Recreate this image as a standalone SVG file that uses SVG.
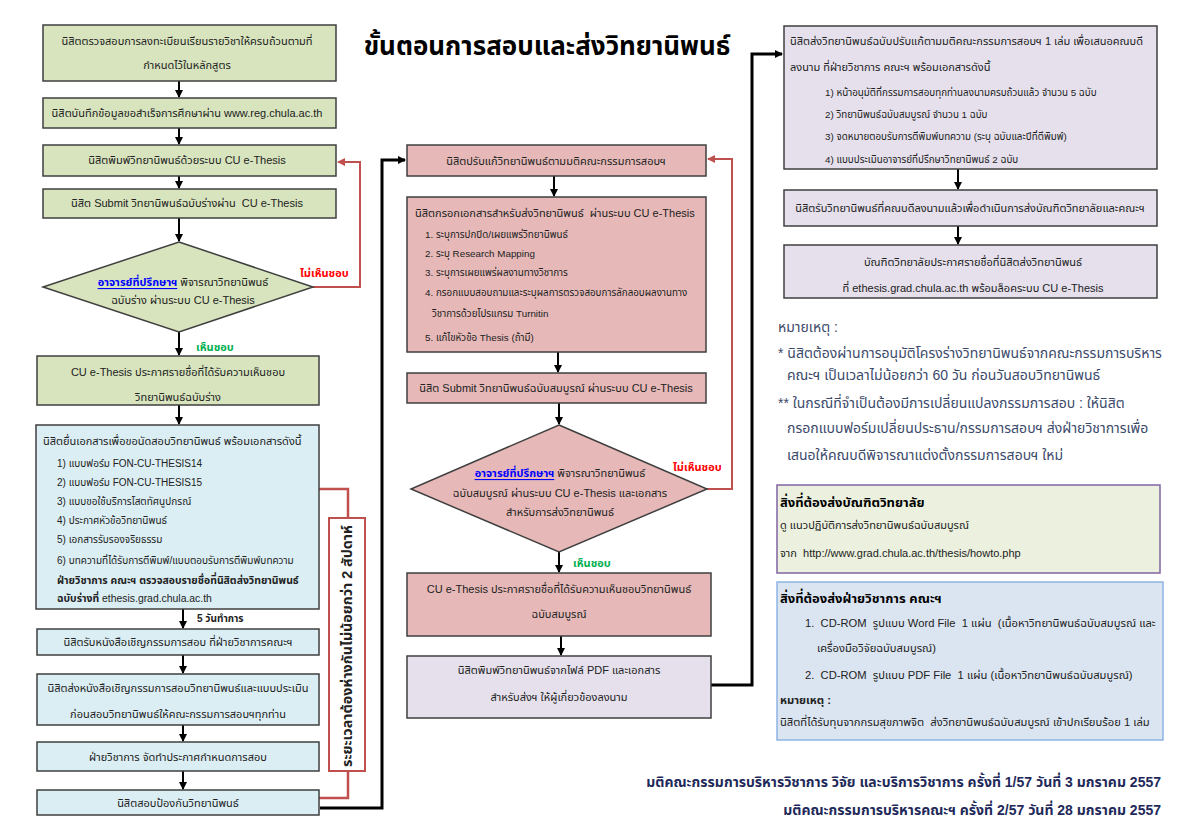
<svg xmlns="http://www.w3.org/2000/svg" width="1183" height="839" viewBox="0 0 1183 839">
<defs>
<marker id="ah" markerWidth="8" markerHeight="8" refX="7" refY="4" orient="auto" markerUnits="userSpaceOnUse"><path d="M0,0 L8,4 L0,8 z" fill="#000"/></marker>
<marker id="ahr" markerWidth="8" markerHeight="8" refX="7" refY="4" orient="auto" markerUnits="userSpaceOnUse"><path d="M0,0 L8,4 L0,8 z" fill="#c0504d"/></marker>
<style>
text{font-family:"Liberation Sans","Noto Sans Thai","Tahoma",sans-serif;fill:#222;font-size:11px;dominant-baseline:central}
.c{text-anchor:middle}
.s{font-size:9.8px}
.s10{font-size:10px}
.f{font-size:11.2px}
.b{font-weight:bold}
.box{stroke:#3f3f3f;stroke-width:1.5}
.g{fill:#d7e4bd}
.bl{fill:#dbeef4}
.pk{fill:#e6b9b8}
.lv{fill:#e5e0ec}
.ln{stroke:#000;stroke-width:2;fill:none}
.thick{stroke:#000;stroke-width:3;fill:none}
.red{stroke:#c0504d;stroke-width:2;fill:none}
.rl{fill:#ff0000;font-weight:bold}
.gl{fill:#00b050;font-weight:bold}
.lk{fill:#0000ff;font-weight:bold;text-decoration:underline}
.note{fill:#3b4a6b;font-size:14px}
.foot{fill:#1f2a5a;font-size:14px;font-weight:bold;text-anchor:end}
</style>
</defs>
<rect width="1183" height="839" fill="#fff"/>
<text x="547" y="46" class="c b" style="font-size:26px;fill:#000">ขั้นตอนการสอบและส่งวิทยานิพนธ์</text>

<g id="connectors">
<line x1="179" y1="81" x2="179" y2="97" class="ln" marker-end="url(#ah)"/>
<line x1="179" y1="128" x2="179" y2="144" class="ln" marker-end="url(#ah)"/>
<line x1="179" y1="176" x2="179" y2="188" class="ln" marker-end="url(#ah)"/>
<line x1="179" y1="218" x2="179" y2="241" class="ln" marker-end="url(#ah)"/>
<polyline points="313,287 360,287 360,162 338,162" class="red" marker-end="url(#ahr)"/>
<line x1="179" y1="332" x2="179" y2="355" class="ln" marker-end="url(#ah)"/>
<line x1="179" y1="405" x2="179" y2="424" class="ln" marker-end="url(#ah)"/>
<line x1="183" y1="609" x2="183" y2="628" class="ln" marker-end="url(#ah)"/>
<line x1="183" y1="655" x2="183" y2="673" class="ln" marker-end="url(#ah)"/>
<line x1="183" y1="725" x2="183" y2="741" class="ln" marker-end="url(#ah)"/>
<line x1="183" y1="771" x2="183" y2="789" class="ln" marker-end="url(#ah)"/>
<polyline points="319,489 348,489 348,518" class="red" style="stroke-width:2.5"/>
<polyline points="348,771 348,798 319,798" class="red" style="stroke-width:2.5"/>
<polyline points="320,808 382,808 382,160 405,160" class="thick" marker-end="url(#ah)"/>
<line x1="554" y1="176" x2="554" y2="196" class="ln" marker-end="url(#ah)"/>
<line x1="558" y1="352" x2="558" y2="372" class="ln" marker-end="url(#ah)"/>
<line x1="559" y1="403" x2="559" y2="424" class="ln" marker-end="url(#ah)"/>
<polyline points="707,489 732,489 732,159 708,159" class="red" marker-end="url(#ahr)"/>
<line x1="559" y1="552" x2="559" y2="572" class="ln" marker-end="url(#ah)"/>
<line x1="561" y1="636" x2="561" y2="655" class="ln" marker-end="url(#ah)"/>
<polyline points="711,685 752,685 752,54 782,54" class="thick" marker-end="url(#ah)"/>
<line x1="958" y1="169" x2="958" y2="189" class="ln" marker-end="url(#ah)"/>
<line x1="958" y1="226" x2="958" y2="244" class="ln" marker-end="url(#ah)"/>
<text x="300" y="273" class="rl">ไม่เห็นชอบ</text>
<text x="196" y="347" class="gl">เห็นชอบ</text>
<text x="197" y="618" class="b" style="font-size:10px">5 วันทำการ</text>
<text x="673" y="467" class="rl">ไม่เห็นชอบ</text>
<text x="573" y="563" class="gl">เห็นชอบ</text>
</g>

<g id="n1"><rect x="43" y="25" width="293" height="56" class="box g"/>
<text x="187" y="41" class="c">นิสิตตรวจสอบการลงทะเบียนเรียนรายวิชาให้ครบถ้วนตามที่</text>
<text x="187" y="65" class="c">กำหนดไว้ในหลักสูตร</text></g>
<g id="n2"><rect x="43" y="98" width="293" height="30" class="box g"/>
<text x="187" y="113" class="c">นิสิตบันทึกข้อมูลขอสำเร็จการศึกษาผ่าน www.reg.chula.ac.th</text></g>
<g id="n3"><rect x="43" y="145" width="293" height="31" class="box g"/>
<text x="187" y="160" class="c">นิสิตพิมพ์วิทยานิพนธ์ด้วยระบบ CU e-Thesis</text></g>
<g id="n4"><rect x="43" y="189" width="293" height="29" class="box g"/>
<text x="187" y="203" class="c">นิสิต Submit วิทยานิพนธ์ฉบับร่างผ่าน&#160; CU e-Thesis</text></g>
<g id="d1"><polygon points="179,242 313,287 179,332 43,287" class="box g"/>
<text x="183" y="282" class="c"><tspan class="lk">อาจารย์ที่ปรึกษาฯ</tspan> พิจารณาวิทยานิพนธ์</text>
<text x="183" y="300" class="c">ฉบับร่าง ผ่านระบบ CU e-Thesis</text></g>
<g id="n5"><rect x="37" y="356" width="282" height="49" class="box g"/>
<text x="178" y="372" class="c">CU e-Thesis ประกาศรายชื่อที่ได้รับความเห็นชอบ</text>
<text x="178" y="397" class="c">วิทยานิพนธ์ฉบับร่าง</text></g>
<g id="n6"><rect x="36" y="425" width="283" height="184" class="box bl"/>
<text x="43" y="441">นิสิตยื่นเอกสารเพื่อขอนัดสอบวิทยานิพนธ์ พร้อมเอกสารดังนี้</text>
<text x="57" y="463" class="s10">1) แบบฟอร์ม FON-CU-THESIS14</text>
<text x="57" y="482" class="s10">2) แบบฟอร์ม FON-CU-THESIS15</text>
<text x="57" y="501" class="s10">3) แบบขอใช้บริการโสตทัศนูปกรณ์</text>
<text x="57" y="520" class="s10">4) ประกาศหัวข้อวิทยานิพนธ์</text>
<text x="57" y="539" class="s10">5) เอกสารรับรองจริยธรรม</text>
<text x="57" y="560" class="s10">6) บทความที่ได้รับการตีพิมพ์/แบบตอบรับการตีพิมพ์บทความ</text>
<text x="57" y="580" class="b" style="font-size:10.4px">ฝ่ายวิชาการ คณะฯ ตรวจสอบรายชื่อที่นิสิตส่งวิทยานิพนธ์</text>
<text x="57" y="598" style="font-size:10.4px"><tspan class="b">ฉบับร่างที่</tspan> ethesis.grad.chula.ac.th</text></g>
<g id="n7"><rect x="37" y="629" width="282" height="26" class="box bl"/>
<text x="178" y="642" class="c">นิสิตรับหนังสือเชิญกรรมการสอบ ที่ฝ่ายวิชาการคณะฯ</text></g>
<g id="n8"><rect x="37" y="674" width="282" height="51" class="box bl"/>
<text x="178" y="688" class="c">นิสิตส่งหนังสือเชิญกรรมการสอบวิทยานิพนธ์และแบบประเมิน</text>
<text x="178" y="714" class="c">ก่อนสอบวิทยานิพนธ์ให้คณะกรรมการสอบฯทุกท่าน</text></g>
<g id="n9"><rect x="37" y="742" width="282" height="29" class="box bl"/>
<text x="178" y="757" class="c">ฝ่ายวิชาการ จัดทำประกาศกำหนดการสอบ</text></g>
<g id="n10"><rect x="37" y="790" width="282" height="25" class="box bl"/>
<text x="178" y="803" class="c">นิสิตสอบป้องกันวิทยานิพนธ์</text></g>
<g id="n11"><rect x="329" y="518" width="36" height="253" fill="#fff" stroke="#c0504d" stroke-width="2"/>
<text transform="translate(347,646) rotate(-90)" class="c b" style="font-size:14.3px">ระยะเวลาต้องห่างกันไม่น้อยกว่า 2 สัปดาห์</text></g>

<g id="m1"><rect x="407" y="145" width="299" height="31" class="box pk"/>
<text x="556" y="161" class="c">นิสิตปรับแก้วิทยานิพนธ์ตามมติคณะกรรมการสอบฯ</text></g>
<g id="m2"><rect x="407" y="197" width="299" height="155" class="box pk"/>
<text x="415" y="213">นิสิตกรอกเอกสารสำหรับส่งวิทยานิพนธ์&#160; ผ่านระบบ CU e-Thesis</text>
<text x="425" y="234" class="s">1. ระบุการปกปิด/เผยแพร่วิทยานิพนธ์</text>
<text x="425" y="253" class="s">2. ระบุ Research Mapping</text>
<text x="425" y="272" class="s">3. ระบุการเผยแพร่ผลงานทางวิชาการ</text>
<text x="425" y="292" class="s">4. กรอกแบบสอบถามและระบุผลการตรวจสอบการลักลอบผลงานทาง</text>
<text x="432" y="313" class="s">วิชาการด้วยโปรแกรม Turnitin</text>
<text x="425" y="337" class="s">5. แก้ไขหัวข้อ Thesis (ถ้ามี)</text></g>
<g id="m3"><rect x="407" y="373" width="299" height="30" class="box pk"/>
<text x="556" y="388" class="c">นิสิต Submit วิทยานิพนธ์ฉบับสมบูรณ์ ผ่านระบบ CU e-Thesis</text></g>
<g id="d2"><polygon points="559,425 707,489 559,552 411,489" class="box pk"/>
<text x="560" y="473" class="c"><tspan class="lk">อาจารย์ที่ปรึกษาฯ</tspan> พิจารณาวิทยานิพนธ์</text>
<text x="560" y="493" class="c">ฉบับสมบูรณ์ ผ่านระบบ CU e-Thesis และเอกสาร</text>
<text x="560" y="512" class="c">สำหรับการส่งวิทยานิพนธ์</text></g>
<g id="m4"><rect x="407" y="573" width="304" height="63" class="box pk"/>
<text x="559" y="589" class="c">CU e-Thesis ประกาศรายชื่อที่ได้รับความเห็นชอบวิทยานิพนธ์</text>
<text x="559" y="614" class="c">ฉบับสมบูรณ์</text></g>
<g id="m5"><rect x="407" y="656" width="304" height="62" class="box lv"/>
<text x="559" y="670" class="c">นิสิตพิมพ์วิทยานิพนธ์จากไฟล์ PDF และเอกสาร</text>
<text x="559" y="697" class="c">สำหรับส่งฯ ให้ผู้เกี่ยวข้องลงนาม</text></g>

<g id="r1"><rect x="784" y="26" width="373" height="143" class="box lv"/>
<text x="790" y="41">นิสิตส่งวิทยานิพนธ์ฉบับปรับแก้ตามมติคณะกรรมการสอบฯ 1 เล่ม เพื่อเสนอคณบดี</text>
<text x="790" y="67">ลงนาม ที่ฝ่ายวิชาการ คณะฯ พร้อมเอกสารดังนี้</text>
<text x="825" y="92" class="s">1) หน้าอนุมัติที่กรรมการสอบทุกท่านลงนามครบถ้วนแล้ว จำนวน 5 ฉบับ</text>
<text x="825" y="114" class="s">2) วิทยานิพนธ์ฉบับสมบูรณ์ จำนวน 1 ฉบับ</text>
<text x="825" y="136" class="s">3) จดหมายตอบรับการตีพิมพ์บทความ (ระบุ ฉบับและปีที่ตีพิมพ์)</text>
<text x="825" y="159" class="s">4) แบบประเมินอาจารย์ที่ปรึกษาวิทยานิพนธ์ 2 ฉบับ</text></g>
<g id="r2"><rect x="784" y="190" width="373" height="36" class="box lv"/>
<text x="970" y="208" class="c">นิสิตรับวิทยานิพนธ์ที่คณบดีลงนามแล้วเพื่อดำเนินการส่งบัณฑิตวิทยาลัยและคณะฯ</text></g>
<g id="r3"><rect x="784" y="245" width="373" height="53" class="box lv"/>
<text x="973" y="262" class="c">บัณฑิตวิทยาลัยประกาศรายชื่อที่นิสิตส่งวิทยานิพนธ์</text>
<text x="973" y="288" class="c">ที่ ethesis.grad.chula.ac.th พร้อมล็อคระบบ CU e-Thesis</text></g>

<g id="notes">
<text x="778" y="327" class="note">หมายเหตุ :</text>
<text x="778" y="353" class="note">* นิสิตต้องผ่านการอนุมัติโครงร่างวิทยานิพนธ์จากคณะกรรมการบริหาร</text>
<text x="787" y="375" class="note">คณะฯ เป็นเวลาไม่น้อยกว่า 60 วัน ก่อนวันสอบวิทยานิพนธ์</text>
<text x="778" y="403" class="note">** ในกรณีที่จำเป็นต้องมีการเปลี่ยนแปลงกรรมการสอบ : ให้นิสิต</text>
<text x="787" y="428" class="note">กรอกแบบฟอร์มเปลี่ยนประธาน/กรรมการสอบฯ ส่งฝ่ายวิชาการเพื่อ</text>
<text x="787" y="455" class="note">เสนอให้คณบดีพิจารณาแต่งตั้งกรรมการสอบฯ ใหม่</text>
</g>

<g id="grad"><rect x="777" y="485" width="383" height="88" fill="#ebf1de" stroke="#8064a2" stroke-width="1.5"/>
<text x="780" y="502" class="b" style="font-size:13px;fill:#000">สิ่งที่ต้องส่งบัณฑิตวิทยาลัย</text>
<text x="780" y="525">ดู แนวปฏิบัติการส่งวิทยานิพนธ์ฉบับสมบูรณ์</text>
<text x="780" y="553">จาก&#160; http://www.grad.chula.ac.th/thesis/howto.php</text></g>
<g id="faculty"><rect x="777" y="582" width="386" height="158" fill="#dbe5f1" stroke="#8eb4e3" stroke-width="1.5"/>
<text x="780" y="598" class="b" style="font-size:13px;fill:#000">สิ่งที่ต้องส่งฝ่ายวิชาการ คณะฯ</text>
<text x="805" y="623" class="f">1.&#160; CD-ROM&#160; รูปแบบ Word File&#160; 1 แผ่น&#160; (เนื้อหาวิทยานิพนธ์ฉบับสมบูรณ์ และ</text>
<text x="817" y="648" class="f">เครื่องมือวิจัยฉบับสมบูรณ์)</text>
<text x="805" y="675" class="f">2.&#160; CD-ROM&#160; รูปแบบ PDF File&#160; 1 แผ่น (เนื้อหาวิทยานิพนธ์ฉบับสมบูรณ์)</text>
<text x="780" y="700" class="f b">หมายเหตุ :</text>
<text x="780" y="722" class="f">นิสิตที่ได้รับทุนจากกรมสุขภาพจิต&#160; ส่งวิทยานิพนธ์ฉบับสมบูรณ์ เข้าปกเรียบร้อย 1 เล่ม</text></g>

<text x="1161" y="782" class="foot">มติคณะกรรมการบริหารวิชาการ วิจัย และบริการวิชาการ ครั้งที่ 1/57 วันที่ 3 มกราคม 2557</text>
<text x="1161" y="810" class="foot">มติคณะกรรมการบริหารคณะฯ ครั้งที่ 2/57 วันที่ 28 มกราคม 2557</text>
</svg>
